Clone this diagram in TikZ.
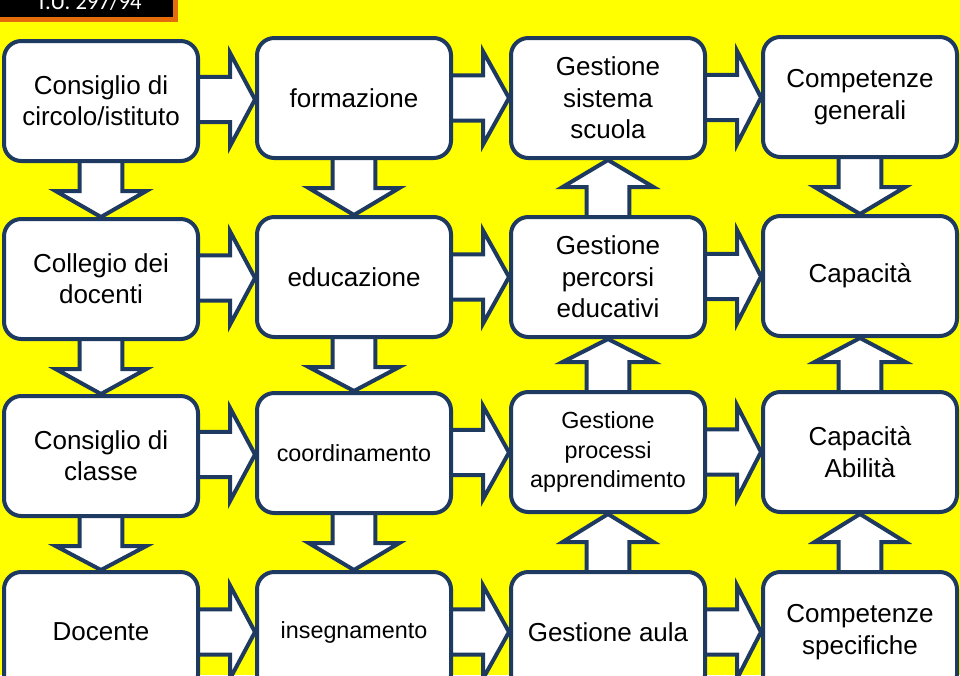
\documentclass[tikz,border=0pt]{standalone}
\usepackage{fontspec}
\setmainfont{Liberation Sans}
\newfontfamily\calib{Carlito}
\usetikzlibrary{calc,backgrounds}
\definecolor{bgyellow}{HTML}{FFFF00}
\definecolor{navy}{HTML}{1F3A60}
\definecolor{orng}{HTML}{E46C0A}
\tikzset{
  box/.style={draw=navy, line width=3pt, fill=white, rounded corners=13pt,
    minimum width=145.5pt, minimum height=90pt, align=center,
    font=\fontsize{19.5}{23.5}\selectfont, inner sep=2pt},
  smalltxt/.style={font=\fontsize{17.5}{22}\selectfont},
  blk/.style={draw=navy, line width=3pt, fill=white, line join=miter},
}
\newcommand\rarr[2]{\draw[blk] let \p1=(#1.east), \p2=(#2.west), \n1={(\y1+\y2)/2} in
  (\x1-4pt,\n1+16.9pt) -- (\x1+22.5pt,\n1+16.9pt) -- (\x1+22.5pt,\n1+35pt) -- (\x2,\n1)
  -- (\x1+22.5pt,\n1-35pt) -- (\x1+22.5pt,\n1-16.9pt) -- (\x1-4pt,\n1-16.9pt) -- cycle;}
\newcommand\darr[2]{\draw[blk] let \p1=(#1.south), \p2=(#2.north), \n1={(\x1+\x2)/2} in
  (\n1-16pt,\y1+4pt) -- (\n1-16pt,\y1-21pt) -- (\n1-34pt,\y1-21pt) -- (\n1,\y2)
  -- (\n1+34pt,\y1-21pt) -- (\n1+16pt,\y1-21pt) -- (\n1+16pt,\y1+4pt) -- cycle;}
\newcommand\uarr[2]{\draw[blk] let \p1=(#1.north), \p2=(#2.south), \n1={(\x1+\x2)/2} in
  (\n1-16pt,\y1-4pt) -- (\n1-16pt,\y1+21pt) -- (\n1-34pt,\y1+21pt) -- (\n1,\y2)
  -- (\n1+34pt,\y1+21pt) -- (\n1+16pt,\y1+21pt) -- (\n1+16pt,\y1-4pt) -- cycle;}
\begin{document}
\begin{tikzpicture}[x=0.75pt,y=-0.75pt]
\useasboundingbox (0,0) rectangle (960,675);
\clip (0,0) rectangle (960,675);
% boxes
\node[box] (a1) at (101,101) {Consiglio di\\circolo/istituto};
\node[box] (a2) at (101,279) {Collegio dei\\docenti};
\node[box] (a3) at (101,456) {Consiglio di\\classe};
\node[box] (a4) at (101,632) {Docente};
\node[box] (b1) at (354,98) {formazione};
\node[box] (b2) at (354,277) {educazione};
\node[box,smalltxt] (b3) at (354,453) {coordinamento};
\node[box,smalltxt] (b4) at (354,632) {insegnamento};
\node[box] (c1) at (608,98) {Gestione\\sistema\\scuola};
\node[box] (c2) at (608,277) {Gestione\\percorsi\\educativi};
\node[box,smalltxt] (c3) at (608,452) {Gestione\\processi\\apprendimento};
\node[box] (c4) at (608,632) {Gestione aula};
\node[box] (d1) at (860,97) {Competenze\\generali};
\node[box] (d2) at (860,276) {Capacità};
\node[box] (d3) at (860,452) {Capacità\\Abilità};
\node[box] (d4) at (860,632) {Competenze\\specifiche};
% title
\draw[draw=orng, line width=3.75pt, fill=black] (-10,-10) rectangle (175,19.5);
\node[anchor=base, text=white, inner sep=0pt, font=\calib\fontsize{17}{20}\selectfont] (title) at (89,9) {T.U. 297/94};
\begin{pgfonlayer}{background}
\fill[bgyellow] (0,0) rectangle (960,675);
\rarr{a1}{b1}\rarr{b1}{c1}\rarr{c1}{d1}
\rarr{a2}{b2}\rarr{b2}{c2}\rarr{c2}{d2}
\rarr{a3}{b3}\rarr{b3}{c3}\rarr{c3}{d3}
\rarr{a4}{b4}\rarr{b4}{c4}\rarr{c4}{d4}
\darr{a1}{a2}\darr{a2}{a3}\darr{a3}{a4}
\darr{b1}{b2}\darr{b2}{b3}\darr{b3}{b4}
\uarr{c4}{c3}\uarr{c3}{c2}\uarr{c2}{c1}
\darr{d1}{d2}\uarr{d3}{d2}\uarr{d4}{d3}
\end{pgfonlayer}
\end{tikzpicture}
\end{document}
